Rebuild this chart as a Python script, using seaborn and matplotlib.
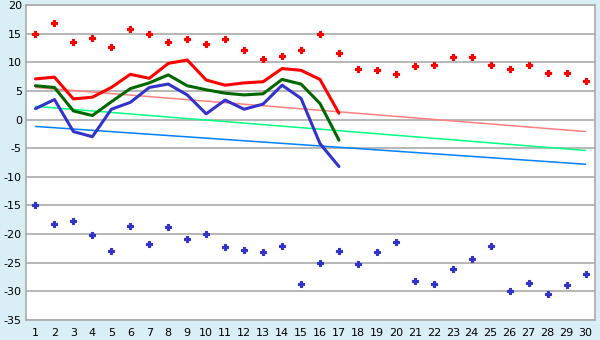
import matplotlib
matplotlib.use('Agg')
import matplotlib.pyplot as plt
import seaborn as sns
import numpy as np
import pandas as pd

# x categories (days)
days = list(range(1, 31))
days_line = list(range(1, 18))

# scatter series
red_points = [15.0, 16.8, 13.5, 14.3, 12.6, 15.8, 15.0, 13.5, 14.1, 13.2,
              14.1, 12.1, 10.5, 11.1, 12.1, 15.0, 11.6, 8.8, 8.6, 7.9,
              9.3, 9.5, 10.9, 10.9, 9.5, 8.8, 9.6, 8.2, 8.1, 6.7]
blue_points = [-15.0, -18.3, -17.8, -20.2, -23.0, -18.5, -21.8, -18.8, -20.9, -20.0,
               -22.3, -22.8, -23.2, -22.1, -28.8, -25.1, -23.0, -25.3, -23.2, -21.4,
               -28.2, -28.8, -26.1, -24.4, -22.1, -30.0, -28.6, -30.5, -28.9, -27.0]

# thick lines (days 1..17)
red_line = [7.1, 7.4, 3.6, 3.9, 5.6, 7.9, 7.2, 9.8, 10.4, 6.9,
            6.0, 6.4, 6.6, 8.9, 8.6, 7.0, 1.1]
green_line = [5.9, 5.6, 1.5, 0.7, 3.1, 5.4, 6.4, 7.8, 5.9, 5.2,
              4.6, 4.3, 4.5, 7.0, 6.2, 2.8, -3.6]
blue_line = [1.9, 3.5, -2.1, -3.0, 1.8, 3.0, 5.6, 6.2, 4.3, 1.0,
             3.4, 1.8, 2.7, 6.0, 3.7, -4.2, -8.2]

# trend lines (value at day 1 and day 30)
trend_days = [1, 30]
trend_red = [5.6, -2.1]
trend_green = [2.3, -5.4]
trend_blue = [-1.2, -7.8]

sns.set_style("white")
plt.rcParams['font.family'] = ['DejaVu Sans']
plt.rcParams['axes.unicode_minus'] = False

fig = plt.figure(figsize=(6, 3.4), dpi=100, facecolor='#DAEEF5')
ax = fig.add_axes([26/600, 20/340, 569/600, 315/340])
ax.set_facecolor('white')

sns.lineplot(x=trend_days, y=trend_red, color='#FF8080', lw=1.1, ax=ax)
sns.lineplot(x=trend_days, y=trend_green, color='#00FF80', lw=1.1, ax=ax)
sns.lineplot(x=trend_days, y=trend_blue, color='#0080FF', lw=1.1, ax=ax)

sns.lineplot(x=days_line, y=red_line, color='#FF0000', lw=2.2, ax=ax)
sns.lineplot(x=days_line, y=green_line, color='#006600', lw=2.2, ax=ax)
sns.lineplot(x=days_line, y=blue_line, color='#3333CC', lw=2.2, ax=ax)

sns.scatterplot(x=days, y=red_points, color='#FF0000', marker='P', s=20,
                edgecolor='#FF0000', linewidth=0.8, ax=ax)
sns.scatterplot(x=days, y=blue_points, color='#3333CC', marker='P', s=20,
                edgecolor='#3333CC', linewidth=0.8, ax=ax)

ax.set_xlim(0.5, 30.5)
ax.set_ylim(-35, 20)
ax.set_xticks(days)
ax.set_yticks(np.arange(-35, 21, 5))
ax.yaxis.grid(True, color='#AAAAAA', lw=1.2)
ax.set_axisbelow(True)
for s in ax.spines.values():
    s.set_color('#AAAAAA')
    s.set_linewidth(1.2)
ax.tick_params(axis='both', labelsize=8, colors='black', length=4, width=1,
               direction='out', pad=1.5)
ax.tick_params(axis='y', length=2, pad=1)
ax.set_xlabel('')
ax.set_ylabel('')

fig.savefig('out.png', dpi=100, facecolor=fig.get_facecolor())
